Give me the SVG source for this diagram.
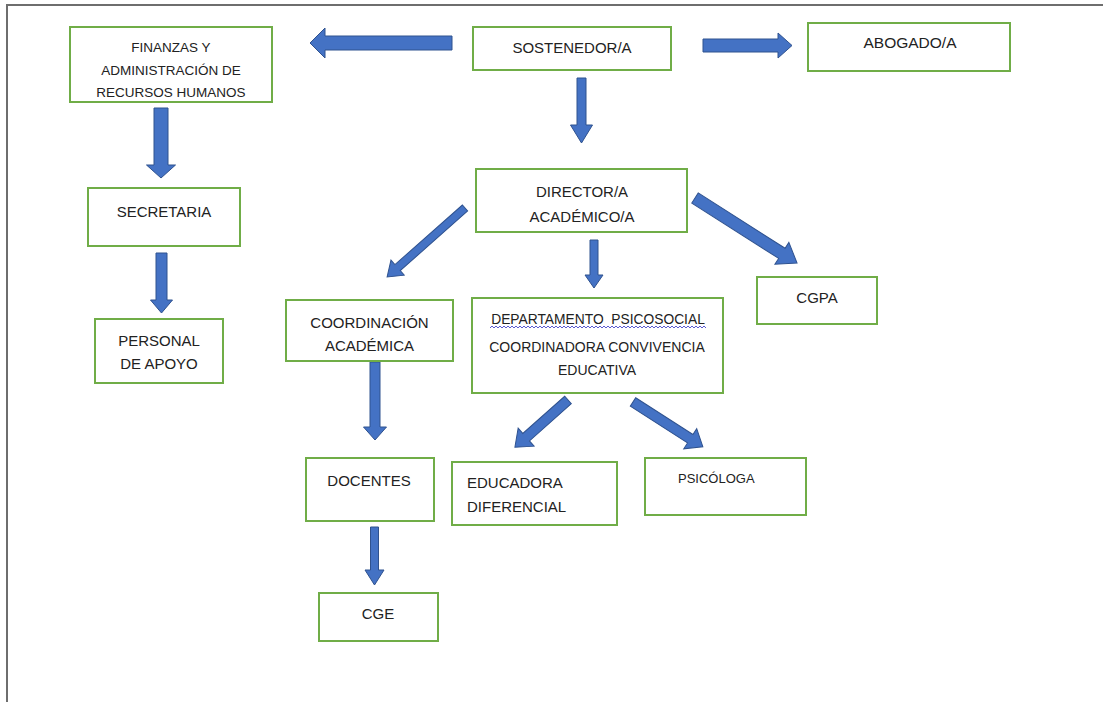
<svg xmlns="http://www.w3.org/2000/svg" width="1103" height="702" viewBox="0 0 1103 702">
<defs>
<style>
.box{fill:#fff;stroke:#70AD47;stroke-width:2}
.t{font-family:"Liberation Sans",Arial,sans-serif;fill:#222;text-anchor:middle}
.l{text-anchor:start}
.arr{fill:#4472C4;stroke:#2F528F;stroke-width:1}
.frame{stroke:#6e6e6e;stroke-width:2;fill:none}
</style>
</defs>
<rect width="1103" height="702" fill="#fff"/>
<path class="frame" d="M7,702 V5 H1103"/>

<g id="connectors">
<!-- SOSTENEDOR -> FINANZAS -->
<path class="arr" transform="translate(452,43) rotate(180)" d="M0,-7 H127 V-15 L142,0 L127,15 V7 H0 Z"/>
<!-- SOSTENEDOR -> ABOGADO -->
<path class="arr" transform="translate(703,45.5)" d="M0,-6.5 H75 V-12.5 L89,0 L75,12.5 V6.5 H0 Z"/>
<!-- SOSTENEDOR -> DIRECTOR -->
<path class="arr" transform="translate(581.5,78) rotate(90)" d="M0,-4.5 H47 V-11 L65,0 L47,11 V4.5 H0 Z"/>
<!-- FINANZAS -> SECRETARIA -->
<path class="arr" transform="translate(161,108) rotate(90)" d="M0,-7 H57 V-14.5 L70,0 L57,14.5 V7 H0 Z"/>
<!-- SECRETARIA -> PERSONAL -->
<path class="arr" transform="translate(161.5,253) rotate(90)" d="M0,-5.5 H47 V-11 L60,0 L47,11 V5.5 H0 Z"/>
<!-- COORDINACION -> DOCENTES -->
<path class="arr" transform="translate(375,362) rotate(90)" d="M0,-5 H65 V-11.5 L78,0 L65,11.5 V5 H0 Z"/>
<!-- DOCENTES -> CGE -->
<path class="arr" transform="translate(374.5,527) rotate(90)" d="M0,-4 H43 V-9.5 L58,0 L43,9.5 V4 H0 Z"/>
<!-- DIRECTOR -> DEPARTAMENTO -->
<path class="arr" transform="translate(594,240) rotate(90)" d="M0,-4 H35 V-9 L48,0 L35,9 V4 H0 Z"/>
<!-- DIRECTOR -> COORDINACION -->
<path class="arr" transform="translate(465,208) rotate(138.5)" d="M0,-4 H90 V-10 L104,0 L90,10 V4 H0 Z"/>
<!-- DIRECTOR -> CGPA -->
<path class="arr" transform="translate(695,198) rotate(32.5)" d="M0,-6 H103 V-13 L121,0 L103,13 V6 H0 Z"/>
<!-- DEPARTAMENTO -> EDUCADORA -->
<path class="arr" transform="translate(568,400) rotate(138.4)" d="M0,-5 H56 V-12 L71,0 L56,12 V5 H0 Z"/>
<!-- DEPARTAMENTO -> PSICOLOGA -->
<path class="arr" transform="translate(633,402) rotate(32.7)" d="M0,-5 H68 V-12 L83,0 L68,12 V5 H0 Z"/>
</g>

<g id="finanzas">
<rect class="box" x="70" y="27" width="202" height="75"/>
<text class="t" font-size="13.5" x="171" y="52">FINANZAS Y</text>
<text class="t" font-size="13.5" x="171" y="75">ADMINISTRACIÓN DE</text>
<text class="t" font-size="13.5" x="171" y="97">RECURSOS HUMANOS</text>
</g>

<g id="sostenedor">
<rect class="box" x="473" y="27" width="198" height="43"/>
<text class="t" font-size="15" x="572" y="53">SOSTENEDOR/A</text>
</g>

<g id="abogado">
<rect class="box" x="808" y="23" width="202" height="48"/>
<text class="t" font-size="15.5" x="910" y="48">ABOGADO/A</text>
</g>

<g id="director">
<rect class="box" x="476" y="169" width="211" height="63"/>
<text class="t" font-size="15" x="582" y="197">DIRECTOR/A</text>
<text class="t" font-size="15" x="582" y="222">ACADÉMICO/A</text>
</g>

<g id="secretaria">
<rect class="box" x="88" y="188" width="152" height="58"/>
<text class="t" font-size="15" x="164" y="217">SECRETARIA</text>
</g>

<g id="personal">
<rect class="box" x="95" y="319" width="128" height="64"/>
<text class="t" font-size="15" x="159" y="346">PERSONAL</text>
<text class="t" font-size="15" x="159" y="369">DE APOYO</text>
</g>

<g id="coordinacion">
<rect class="box" x="286" y="300" width="167" height="61"/>
<text class="t" font-size="15" x="369.5" y="328">COORDINACIÓN</text>
<text class="t" font-size="15" x="369.5" y="351">ACADÉMICA</text>
</g>

<g id="departamento">
<rect class="box" x="472" y="298" width="251" height="95"/>
<text class="t" font-size="13.8" x="598" y="324" xml:space="preserve">DEPARTAMENTO  PSICOSOCIAL</text>
<path fill="none" stroke="#5a5ad0" stroke-width="1" d="M490,328
l2,-2 l2,2 l2,-2 l2,2 l2,-2 l2,2 l2,-2 l2,2 l2,-2 l2,2 l2,-2 l2,2 l2,-2 l2,2 l2,-2 l2,2 l2,-2 l2,2
l2,-2 l2,2 l2,-2 l2,2 l2,-2 l2,2 l2,-2 l2,2 l2,-2 l2,2 l2,-2 l2,2 l2,-2 l2,2 l2,-2 l2,2 l2,-2 l2,2
l2,-2 l2,2 l2,-2 l2,2 l2,-2 l2,2 l2,-2 l2,2 l2,-2 l2,2 l2,-2 l2,2 l2,-2 l2,2 l2,-2 l2,2 l2,-2 l2,2
l2,-2 l2,2 l2,-2 l2,2 l2,-2 l2,2 l2,-2 l2,2 l2,-2 l2,2 l2,-2 l2,2 l2,-2 l2,2 l2,-2 l2,2 l2,-2 l2,2
l2,-2 l2,2 l2,-2 l2,2 l2,-2 l2,2 l2,-2 l2,2 l2,-2 l2,2 l2,-2 l2,2 l2,-2 l2,2 l2,-2 l2,2 l2,-2 l2,2
l2,-2 l2,2 l2,-2 l2,2 l2,-2 l2,2 l2,-2 l2,2 l2,-2 l2,2 l2,-2 l2,2 l2,-2 l2,2 l2,-2 l2,2 l2,-2 l2,2"/>
<text class="t" font-size="14" x="597" y="352">COORDINADORA CONVIVENCIA</text>
<text class="t" font-size="14" x="597" y="375">EDUCATIVA</text>
</g>

<g id="cgpa">
<rect class="box" x="757" y="277" width="120" height="47"/>
<text class="t" font-size="15" x="817" y="303">CGPA</text>
</g>

<g id="docentes">
<rect class="box" x="306" y="458" width="128" height="63"/>
<text class="t" font-size="15" x="369" y="486">DOCENTES</text>
</g>

<g id="cge">
<rect class="box" x="319" y="593" width="119" height="48"/>
<text class="t" font-size="15" x="378" y="619">CGE</text>
</g>

<g id="educadora">
<rect class="box" x="452" y="462" width="165" height="63"/>
<text class="t l" font-size="15" x="467" y="488">EDUCADORA</text>
<text class="t l" font-size="15" x="467" y="512">DIFERENCIAL</text>
</g>

<g id="psicologa">
<rect class="box" x="645" y="458" width="161" height="57"/>
<text class="t l" font-size="13" x="678" y="483">PSICÓLOGA</text>
</g>
</svg>
